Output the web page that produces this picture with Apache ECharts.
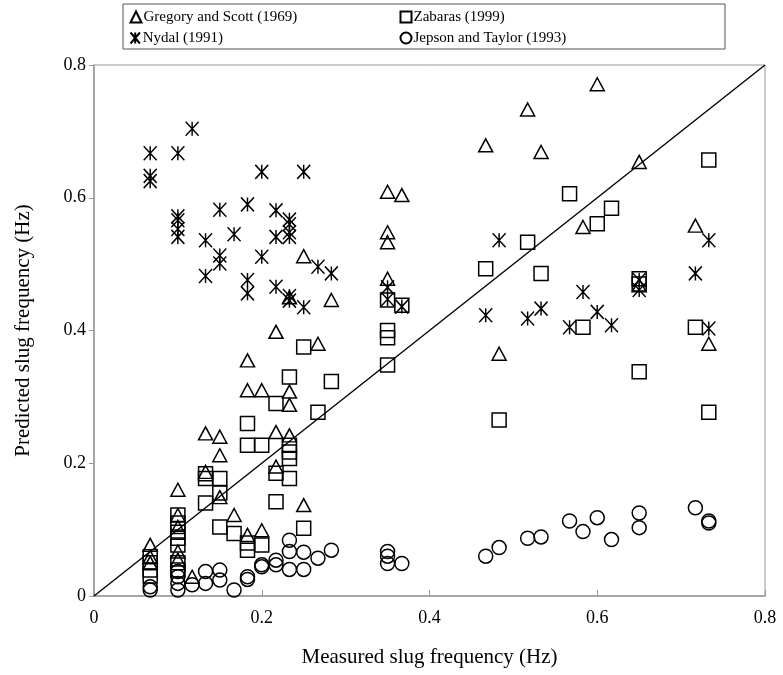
<!DOCTYPE html>
<html>
<head>
<meta charset="utf-8">
<script src="https://cdn.jsdelivr.net/npm/echarts@6/dist/echarts.min.js"></script>
<style>
html,body{margin:0;padding:0;background:#fff;}
#chart{width:783px;height:675px;}
</style>
</head>
<body>
<div id="chart"></div>
<script>
// Tick labels / axis range
var xTicks = [0, 0.2, 0.4, 0.6, 0.8];
var yTicks = [0, 0.2, 0.4, 0.6, 0.8];
var seriesNames = ['Gregory and Scott (1969)', 'Zabaras (1999)', 'Nydal (1991)', 'Jepson and Taylor (1993)'];

// [measured, predicted]
var gregory = [
  [0.067,0.077],[0.067,0.059],[0.067,0.050],
  [0.1,0.160],[0.1,0.122],[0.1,0.104],[0.1,0.067],[0.1,0.055],
  [0.117,0.029],
  [0.133,0.245],[0.133,0.187],
  [0.15,0.240],[0.15,0.212],[0.15,0.149],
  [0.167,0.122],
  [0.183,0.355],[0.183,0.310],[0.183,0.092],
  [0.2,0.310],[0.2,0.099],
  [0.217,0.398],[0.217,0.247],[0.217,0.195],
  [0.233,0.308],[0.233,0.288],[0.233,0.242],[0.233,0.450],
  [0.25,0.512],[0.25,0.137],
  [0.267,0.380],
  [0.283,0.446],
  [0.35,0.609],[0.35,0.548],[0.35,0.533],[0.35,0.478],
  [0.367,0.604],
  [0.467,0.679],[0.483,0.365],[0.517,0.733],[0.533,0.669],
  [0.583,0.556],[0.6,0.771],[0.65,0.654],[0.65,0.468],
  [0.717,0.558],[0.733,0.380]
];
var zabaras = [
  [0.067,0.059],[0.067,0.050],[0.067,0.039],[0.067,0.030],
  [0.1,0.122],[0.1,0.110],[0.1,0.096],[0.1,0.087],[0.1,0.077],[0.1,0.050],[0.1,0.039],
  [0.133,0.184],[0.133,0.177],[0.133,0.140],
  [0.15,0.177],[0.15,0.155],[0.15,0.104],
  [0.167,0.094],
  [0.183,0.260],[0.183,0.227],[0.183,0.080],[0.183,0.069],
  [0.2,0.227],[0.2,0.077],
  [0.217,0.290],[0.217,0.185],[0.217,0.142],
  [0.233,0.330],[0.233,0.227],[0.233,0.217],[0.233,0.207],[0.233,0.177],
  [0.25,0.375],[0.25,0.102],
  [0.267,0.277],
  [0.283,0.323],
  [0.35,0.446],[0.35,0.400],[0.35,0.389],[0.35,0.348],
  [0.367,0.438],
  [0.467,0.493],[0.483,0.265],[0.517,0.533],[0.533,0.486],
  [0.567,0.606],[0.583,0.405],[0.6,0.561],[0.617,0.584],
  [0.65,0.478],[0.65,0.470],[0.65,0.338],
  [0.717,0.405],[0.733,0.657],[0.733,0.277]
];
var nydal = [
  [0.067,0.667],[0.067,0.633],[0.067,0.625],
  [0.1,0.667],[0.1,0.572],[0.1,0.566],[0.1,0.553],[0.1,0.541],
  [0.117,0.704],
  [0.133,0.536],[0.133,0.482],
  [0.15,0.582],[0.15,0.513],[0.15,0.501],
  [0.167,0.545],
  [0.183,0.590],[0.183,0.476],[0.183,0.456],
  [0.2,0.639],[0.2,0.511],
  [0.217,0.581],[0.217,0.541],[0.217,0.466],
  [0.233,0.567],[0.233,0.560],[0.233,0.548],[0.233,0.541],[0.233,0.452],[0.233,0.445],
  [0.25,0.639],[0.25,0.435],
  [0.267,0.496],
  [0.283,0.486],
  [0.35,0.465],[0.35,0.447],
  [0.367,0.436],
  [0.467,0.423],[0.483,0.536],[0.517,0.418],[0.533,0.433],
  [0.567,0.405],[0.583,0.458],[0.6,0.428],[0.617,0.408],
  [0.65,0.476],[0.65,0.461],
  [0.717,0.486],[0.733,0.536],[0.733,0.403]
];
var jepson = [
  [0.067,0.014],[0.067,0.009],
  [0.1,0.037],[0.1,0.029],[0.1,0.019],[0.1,0.009],
  [0.117,0.017],
  [0.133,0.037],[0.133,0.019],
  [0.15,0.039],[0.15,0.024],
  [0.167,0.009],
  [0.183,0.029],[0.183,0.025],
  [0.2,0.047],[0.2,0.044],
  [0.217,0.054],[0.217,0.047],
  [0.233,0.084],[0.233,0.067],[0.233,0.040],
  [0.25,0.066],[0.25,0.040],
  [0.267,0.057],
  [0.283,0.069],
  [0.35,0.067],[0.35,0.060],[0.35,0.049],
  [0.367,0.049],
  [0.467,0.060],[0.483,0.073],[0.517,0.087],[0.533,0.089],
  [0.567,0.113],[0.583,0.097],[0.6,0.118],[0.617,0.085],
  [0.65,0.125],[0.65,0.103],
  [0.717,0.133],[0.733,0.113],[0.733,0.110]
];
var parityLine = [[0, 0], [0.8, 0.8]];

var FONT = '"Liberation Serif", "Times New Roman", serif';
var star = 'path://M0,0L12,14M12,0L0,14M6,0L6,14';
var symbols = ['triangle', 'rect', star, 'circle'];
var sizes = [[14, 13], 14, [13, 14], 14];
var datasets = [gregory, zabaras, nydal, jepson];

var chart = echarts.init(document.getElementById('chart'), null, {renderer: 'canvas'});

var series = datasets.map(function (d, i) {
  return {
    name: seriesNames[i],
    type: 'scatter',
    data: d,
    symbol: symbols[i],
    symbolSize: sizes[i],
    itemStyle: {color: 'none', borderColor: '#000', borderWidth: 1.5, opacity: 1},
    emphasis: {disabled: true},
    z: 3
  };
});
series.push({
  type: 'line',
  data: parityLine,
  showSymbol: false,
  symbol: 'none',
  lineStyle: {color: '#000', width: 1.4},
  silent: true,
  z: 2
});

var legendPos = [
  {left: 128, top: 9}, {left: 398, top: 9},
  {left: 128, top: 30}, {left: 398, top: 30}
];
var legends = seriesNames.map(function (n, i) {
  return {
    data: [n],
    left: legendPos[i].left,
    top: legendPos[i].top,
    itemWidth: 11,
    itemHeight: 11,
    itemGap: 0,
    padding: 0,
    selectedMode: false,
    textStyle: {fontFamily: FONT, fontSize: 15, color: '#000', padding: [0, 0, 0, -3]}
  };
});

chart.setOption({
  animation: false,
  backgroundColor: '#fff',
  graphic: [{
    type: 'rect',
    shape: {x: 123, y: 4, width: 602, height: 45},
    style: {fill: 'none', stroke: '#555', lineWidth: 1},
    silent: true
  }],
  legend: legends,
  grid: {left: 94, right: 18, top: 65, bottom: 79, show: true, borderColor: '#999', borderWidth: 1},
  xAxis: {
    type: 'value', min: xTicks[0], max: xTicks[xTicks.length - 1], interval: 0.2,
    name: 'Measured slug frequency (Hz)', nameLocation: 'middle', nameGap: 51,
    nameTextStyle: {fontFamily: FONT, fontSize: 21, color: '#000'},
    axisLine: {lineStyle: {color: '#999', width: 1.5}},
    axisTick: {inside: true, length: 6, lineStyle: {color: '#999'}},
    axisLabel: {fontFamily: FONT, fontSize: 18, color: '#000', margin: 13,
      formatter: function (v) { return String(+v.toFixed(1)); }},
    splitLine: {show: false}
  },
  yAxis: {
    type: 'value', min: yTicks[0], max: yTicks[yTicks.length - 1], interval: 0.2,
    name: 'Predicted slug frequency (Hz)', nameLocation: 'middle', nameGap: 60,
    nameTextStyle: {fontFamily: FONT, fontSize: 21, color: '#000'},
    axisLine: {lineStyle: {color: '#999', width: 1.5}},
    axisTick: {inside: false, length: 5, lineStyle: {color: '#999'}},
    axisLabel: {fontFamily: FONT, fontSize: 18, color: '#000', margin: 8,
      formatter: function (v) { return String(+v.toFixed(1)); }},
    splitLine: {show: false}
  },
  series: series
});
</script>
</body>
</html>
